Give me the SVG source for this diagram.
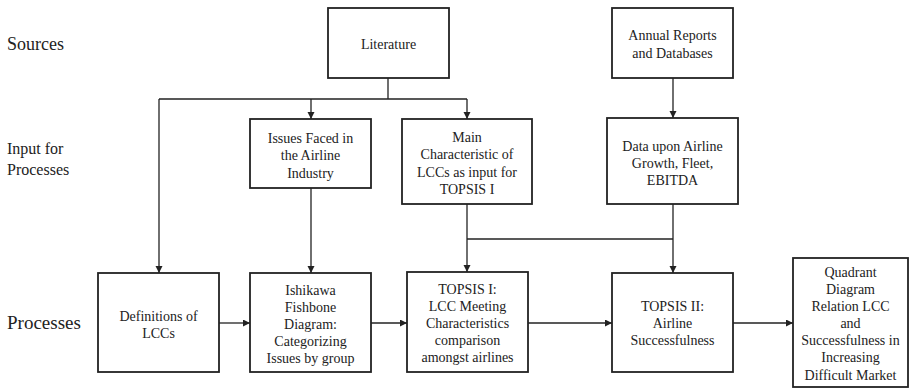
<svg xmlns="http://www.w3.org/2000/svg" width="910" height="388" viewBox="0 0 910 388">
<defs>
<marker id="arr" markerUnits="userSpaceOnUse" markerWidth="8" markerHeight="8" refX="7" refY="3.5" orient="auto">
<path d="M0,0 L7,3.5 L0,7 Z" fill="#222"/>
</marker>
<style>
.box{fill:#fff;stroke:#222;stroke-width:1.8}
.t{font-size:14px;fill:#222;text-anchor:middle}
.lbl{fill:#222}
.c{fill:none;stroke:#222;stroke-width:1.3}
.a{marker-end:url(#arr)}
</style>
</defs>
<rect width="910" height="388" fill="#fff"/>
<g id="labels">
<text class="lbl" font-family="Liberation Serif" x="7" y="50" font-size="18">Sources</text>
<text class="lbl" font-family="Liberation Serif" x="7" y="154" font-size="16">Input for</text>
<text class="lbl" font-family="Liberation Serif" x="7" y="175" font-size="16">Processes</text>
<text class="lbl" font-family="Liberation Serif" x="7" y="329" font-size="19">Processes</text>
</g>
<g id="connectors">
<path class="c" d="M388,78 V99 M159,99 H467"/>
<path class="c a" d="M159,99 V273"/>
<path class="c a" d="M311,99 V119"/>
<path class="c a" d="M467,99 V119"/>
<path class="c a" d="M673,78 V118"/>
<path class="c a" d="M311,188 V273"/>
<path class="c a" d="M467,204 V272"/>
<path class="c" d="M467,239 H673"/>
<path class="c a" d="M673,204 V273"/>
<path class="c a" d="M219,323 H250"/>
<path class="c a" d="M371,323 H407"/>
<path class="c a" d="M528,323 H612"/>
<path class="c a" d="M733,323 H793"/>
</g>
<g id="literature">
<rect class="box" x="328" y="8" width="121" height="70"/>
<text class="t" font-family="Liberation Serif" x="388.5" y="49">Literature</text>
</g>
<g id="annual">
<rect class="box" x="612" y="8" width="121" height="70"/>
<text class="t" font-family="Liberation Serif" x="672.5" y="40">Annual Reports</text>
<text class="t" font-family="Liberation Serif" x="672.5" y="58">and Databases</text>
</g>
<g id="issues">
<rect class="box" x="250" y="119" width="121" height="69"/>
<text class="t" font-family="Liberation Serif" x="310.5" y="143">Issues Faced in</text>
<text class="t" font-family="Liberation Serif" x="310.5" y="160">the Airline</text>
<text class="t" font-family="Liberation Serif" x="310.5" y="178">Industry</text>
</g>
<g id="main">
<rect class="box" x="402" y="119" width="130" height="85"/>
<text class="t" font-family="Liberation Serif" x="467" y="142">Main</text>
<text class="t" font-family="Liberation Serif" x="467" y="159">Characteristic  of</text>
<text class="t" font-family="Liberation Serif" x="467" y="177">LCCs as input for</text>
<text class="t" font-family="Liberation Serif" x="467" y="194">TOPSIS I</text>
</g>
<g id="data">
<rect class="box" x="607" y="118" width="131" height="86"/>
<text class="t" font-family="Liberation Serif" x="672.5" y="151">Data upon Airline</text>
<text class="t" font-family="Liberation Serif" x="672.5" y="168">Growth, Fleet,</text>
<text class="t" font-family="Liberation Serif" x="672.5" y="185">EBITDA</text>
</g>
<g id="definitions">
<rect class="box" x="98" y="273" width="121" height="99"/>
<text class="t" font-family="Liberation Serif" x="158.5" y="321">Definitions of</text>
<text class="t" font-family="Liberation Serif" x="158.5" y="338">LCCs</text>
</g>
<g id="ishikawa">
<rect class="box" x="250" y="273" width="121" height="99"/>
<text class="t" font-family="Liberation Serif" x="310.5" y="295">Ishikawa</text>
<text class="t" font-family="Liberation Serif" x="310.5" y="312">Fishbone</text>
<text class="t" font-family="Liberation Serif" x="310.5" y="329">Diagram:</text>
<text class="t" font-family="Liberation Serif" x="310.5" y="346">Categorizing</text>
<text class="t" font-family="Liberation Serif" x="310.5" y="363">Issues by group</text>
</g>
<g id="topsis1">
<rect class="box" x="407" y="272" width="121" height="100"/>
<text class="t" font-family="Liberation Serif" x="467.5" y="294">TOPSIS I:</text>
<text class="t" font-family="Liberation Serif" x="467.5" y="311">LCC Meeting</text>
<text class="t" font-family="Liberation Serif" x="467.5" y="328">Characteristics</text>
<text class="t" font-family="Liberation Serif" x="467.5" y="345">comparison</text>
<text class="t" font-family="Liberation Serif" x="467.5" y="362">amongst airlines</text>
</g>
<g id="topsis2">
<rect class="box" x="612" y="273" width="121" height="99"/>
<text class="t" font-family="Liberation Serif" x="672.5" y="311">TOPSIS II:</text>
<text class="t" font-family="Liberation Serif" x="672.5" y="328">Airline</text>
<text class="t" font-family="Liberation Serif" x="672.5" y="345">Successfulness</text>
</g>
<g id="quadrant">
<rect class="box" x="793" y="258" width="115" height="129"/>
<text class="t" font-family="Liberation Serif" x="850.5" y="277">Quadrant</text>
<text class="t" font-family="Liberation Serif" x="850.5" y="294">Diagram</text>
<text class="t" font-family="Liberation Serif" x="850.5" y="311">Relation LCC</text>
<text class="t" font-family="Liberation Serif" x="850.5" y="328">and</text>
<text class="t" font-family="Liberation Serif" x="850.5" y="345">Successfulness in</text>
<text class="t" font-family="Liberation Serif" x="850.5" y="362">Increasing</text>
<text class="t" font-family="Liberation Serif" x="850.5" y="380">Difficult Market</text>
</g>
</svg>
